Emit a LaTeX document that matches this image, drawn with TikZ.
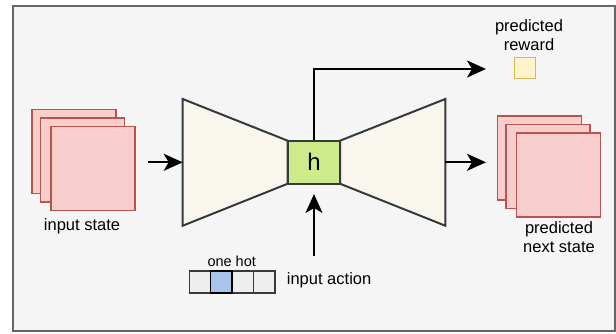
\documentclass[tikz,border=0pt]{standalone}
\usepackage{fontspec}
\setmainfont{Liberation Sans}
\usetikzlibrary{arrows.meta}
\definecolor{framefill}{HTML}{F5F5F5}
\definecolor{framedraw}{HTML}{666666}
\definecolor{redfill}{HTML}{F8CECC}
\definecolor{reddraw}{HTML}{B85450}
\definecolor{darkline}{HTML}{36393D}
\definecolor{trapfill}{HTML}{F9F7ED}
\definecolor{hfill}{HTML}{CDEB8B}
\definecolor{yelfill}{HTML}{FFF2CC}
\definecolor{yeldraw}{HTML}{D6B656}
\definecolor{cellfill}{HTML}{EEEEEE}
\definecolor{bluefill}{HTML}{A9C4EB}
\begin{document}
\begin{tikzpicture}[x=1pt,y=-1pt,
  statebox/.style={draw=reddraw,fill=redfill,line width=1.5pt,minimum width=84pt,minimum height=84pt,inner sep=0pt},
  trap/.style={draw=darkline,fill=trapfill,line width=2pt,line join=miter},
  hbox/.style={draw=darkline,fill=hfill,line width=2pt,minimum width=52pt,minimum height=43pt,inner sep=0pt,font=\fontsize{24}{26}\selectfont},
  cell/.style={draw=darkline,fill=cellfill,line width=1.5pt,minimum width=21.4pt,minimum height=21.7pt,inner sep=0pt},
  hotcell/.style={cell,draw=black,fill=bluefill},
  lbl/.style={font=\fontsize{16.5}{18.7}\selectfont,align=center,inner sep=0pt},
  conn/.style={line width=2pt,-{Stealth[length=19pt,width=17pt,inset=5pt]}}
]
\useasboundingbox (0,0) rectangle (616,333);
\draw[draw=framedraw,fill=framefill,line width=2pt] (13,6) rectangle (615,331);

% input state stack
\node[statebox] (in1) at (74,151.7) {};
\node[statebox] (in2) at (82.5,160) {};
\node[statebox] (in3) at (93,168.5) {};
\node[lbl] (inlbl) at (82,226) {input state};

% encoder / decoder
\draw[trap] (182.7,99) -- (287.7,140.7) -- (287.7,183.7) -- (182.7,225.7) -- cycle;
\draw[trap] (340,140.7) -- (445.3,99) -- (445.3,225.7) -- (340,183.7) -- cycle;
\coordinate (encL) at (182.7,162.3);
\coordinate (decR) at (445.3,162.3);
\node[hbox] (h) at (314,162.2) {h};

% arrows
\coordinate (inarr) at (147.7,162.3);
\draw[conn] (inarr) -- (encL);
\coordinate (outtip) at (486,162.3);
\draw[conn] (decR) -- (outtip);
\coordinate (corner) at (314,69);
\coordinate (rewtip) at (486,69);
\draw[conn] (h.north) -- (corner) -- (rewtip);
\coordinate (actbase) at (314,256);
\coordinate (acttip) at (314,194);
\draw[conn] (actbase) -- (acttip);

% reward
\node[draw=yeldraw,fill=yelfill,line width=1.5pt,minimum width=21pt,minimum height=21pt,inner sep=0pt] (rew) at (525,68) {};
\node[lbl] (rewlbl) at (529,35) {predicted\\reward};

% predicted next state stack
\node[statebox] (out1) at (539.5,157.9) {};
\node[statebox] (out2) at (547.9,166.4) {};
\node[statebox] (out3) at (558.7,175) {};
\node[lbl] (outlbl) at (559,237.4) {predicted\\next state};

% one hot action
\node[cell] (c1) at (200,281.9) {};
\node[cell] (c3) at (242.8,281.9) {};
\node[cell] (c4) at (264.2,281.9) {};
\node[hotcell] (c2) at (221.4,281.9) {};
\node[lbl,font=\fontsize{14.5}{16}\selectfont] (hotlbl) at (231.7,261) {one hot};
\node[lbl,anchor=west] (actlbl) at (286.7,280) {input action};
\end{tikzpicture}
\end{document}
